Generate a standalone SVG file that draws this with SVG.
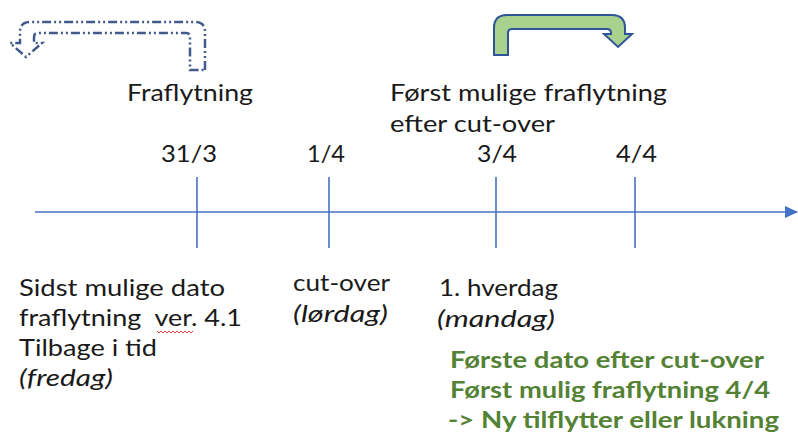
<svg xmlns="http://www.w3.org/2000/svg" width="798" height="436" viewBox="0 0 798 436">
<style>
.t{font-family:Lato,"Open Sans","Liberation Sans",sans-serif;font-size:23px;fill:#1a1a1a;white-space:pre}
.i{font-style:italic}
.g{font-family:Lato,"Open Sans","Liberation Sans",sans-serif;font-size:22px;font-weight:bold;fill:#548235}
.ax{stroke:#4472C4;stroke-width:1.6;fill:none}
</style>
<defs>
<marker id="ah" viewBox="0 0 13 12" refX="12" refY="6" markerWidth="13" markerHeight="12" markerUnits="userSpaceOnUse" orient="auto">
<path d="M0,0 L13,6 L0,12 Z" fill="#4472C4"/>
</marker>
</defs>
<rect width="798" height="436" fill="#ffffff"/>
<g id="arrow-back">
<path d="M205,70 L205,32 Q205,22 195,22 L30,22 Q20,22 20,32 L20,43 L10,43 L26,57 L42,43 L34,43 L34,37 Q34,33 38,33 L186,33 Q190,33 190,37 L190,70 Z" fill="none" stroke="#42598A" stroke-width="2.5" stroke-dasharray="9,3,2,3,2,3"/>
</g>
<g id="arrow-forward">
<path d="M494,55 L494,28 Q494,15 507,15 L612,15 Q625,15 625,28 L625,34 L632,34 L618,47 L604,34 L611,34 L611,33 Q611,29 607,29 L512,29 Q508,29 508,33 L508,55 Z" fill="#A9D18E" stroke="#2F5597" stroke-width="2"/>
</g>
<g id="connectors">
<line class="ax" x1="35" y1="212" x2="797" y2="212" marker-end="url(#ah)"/>
</g>
<g id="tick-31-3"><line class="ax" x1="197" y1="177" x2="197" y2="248"/><text class="t" x="161" y="162" textLength="56" lengthAdjust="spacingAndGlyphs">31/3</text></g>
<g id="tick-1-4"><line class="ax" x1="329" y1="177" x2="329" y2="248"/><text class="t" x="307" y="162" textLength="38" lengthAdjust="spacingAndGlyphs">1/4</text></g>
<g id="tick-3-4"><line class="ax" x1="496" y1="177" x2="496" y2="248"/><text class="t" x="477" y="162" textLength="40" lengthAdjust="spacingAndGlyphs">3/4</text></g>
<g id="tick-4-4"><line class="ax" x1="635" y1="177" x2="635" y2="248"/><text class="t" x="616" y="162" textLength="41" lengthAdjust="spacingAndGlyphs">4/4</text></g>
<g id="label-fraflytning"><text class="t" x="127" y="101" textLength="126" lengthAdjust="spacingAndGlyphs">Fraflytning</text></g>
<g id="label-forst">
<text class="t" x="390" y="101" textLength="277" lengthAdjust="spacingAndGlyphs">Først mulige fraflytning</text>
<text class="t" x="390" y="132" textLength="165" lengthAdjust="spacingAndGlyphs">efter cut-over</text>
</g>
<g id="label-sidst">
<text class="t" x="19" y="296" textLength="206" lengthAdjust="spacingAndGlyphs">Sidst mulige dato</text>
<text class="t" x="19" y="326" textLength="223" lengthAdjust="spacingAndGlyphs" xml:space="preserve">fraflytning  ver. 4.1</text>
<path d="M157,331 l2,2 l2,-2 l2,2 l2,-2 l2,2 l2,-2 l2,2 l2,-2 l2,2 l2,-2 l2,2 l2,-2 l2,2 l2,-2 l2,2 l2,-2 l2,2 l2,-2" fill="none" stroke="#E04040" stroke-width="1"/>
<text class="t" x="19" y="356" textLength="138" lengthAdjust="spacingAndGlyphs">Tilbage i tid</text>
<text class="t i" x="19" y="386" textLength="94" lengthAdjust="spacingAndGlyphs">(fredag)</text>
</g>
<g id="label-cutover">
<text class="t" x="293" y="291" textLength="97" lengthAdjust="spacingAndGlyphs">cut-over</text>
<text class="t i" x="293" y="322" textLength="95" lengthAdjust="spacingAndGlyphs">(lørdag)</text>
</g>
<g id="label-hverdag">
<text class="t" x="439" y="296" textLength="119" lengthAdjust="spacingAndGlyphs">1. hverdag</text>
<text class="t i" x="437" y="327" textLength="118" lengthAdjust="spacingAndGlyphs">(mandag)</text>
</g>
<g id="label-green">
<text class="g" x="450" y="368" textLength="314" lengthAdjust="spacingAndGlyphs">Første dato efter cut-over</text>
<text class="g" x="450" y="398" textLength="320" lengthAdjust="spacingAndGlyphs">Først mulig fraflytning 4/4</text>
<text class="g" x="448" y="428" textLength="331" lengthAdjust="spacingAndGlyphs">-&gt; Ny tilflytter eller lukning</text>
</g>
</svg>
